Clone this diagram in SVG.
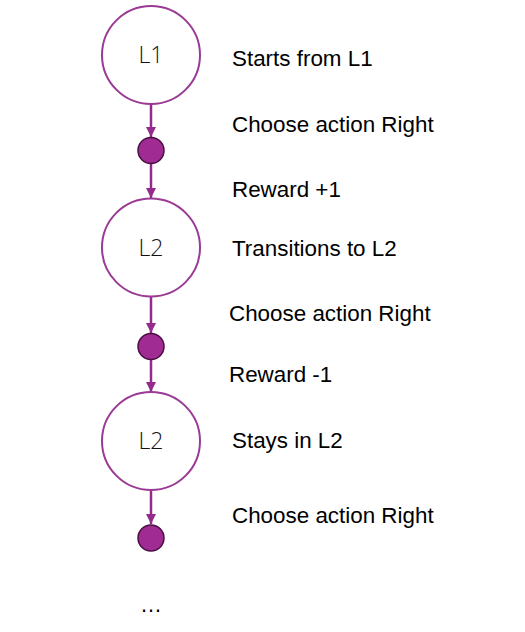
<svg xmlns="http://www.w3.org/2000/svg" width="525" height="632" viewBox="0 0 525 632">
<defs>
<marker id="ah" viewBox="0 0 10 10" refX="10" refY="5" markerWidth="4" markerHeight="4" orient="auto" markerUnits="strokeWidth">
<path d="M0,0 L10,5 L0,10 z" fill="#932a8c"/>
</marker>
<style>
.st{fill:#fff;stroke:#9a3a94;stroke-width:2}
.dot{fill:#a02b92;stroke:#4a1044;stroke-width:1.5}
.lb{font-family:"Open Sans","Noto Sans",sans-serif;font-weight:300;font-size:23px;fill:#111;text-anchor:middle}
.tx{font-family:"Liberation Sans",Arial,sans-serif;font-size:22.4px;fill:#000}
.cn{stroke:#932a8c;stroke-width:2.5;fill:none;marker-end:url(#ah)}
</style>
</defs>
<rect width="525" height="632" fill="#fff"/>
<g id="connectors">
<line class="cn" x1="151" y1="104" x2="151" y2="137"/>
<line class="cn" x1="151" y1="164" x2="151" y2="198"/>
<line class="cn" x1="151" y1="297" x2="151" y2="333"/>
<line class="cn" x1="151" y1="360" x2="151" y2="392"/>
<line class="cn" x1="151" y1="491" x2="151" y2="524"/>
</g>
<g id="state1"><circle class="st" cx="151" cy="55" r="49"/><text class="lb" x="151" y="63">L1</text></g>
<g id="action1"><circle class="dot" cx="151" cy="150.5" r="13"/></g>
<g id="state2"><circle class="st" cx="151" cy="247.5" r="49"/><text class="lb" x="151" y="256">L2</text></g>
<g id="action2"><circle class="dot" cx="151" cy="346.5" r="13"/></g>
<g id="state3"><circle class="st" cx="151" cy="441" r="49"/><text class="lb" x="151" y="449">L2</text></g>
<g id="action3"><circle class="dot" cx="151" cy="538" r="13"/></g>
<g id="ellipsis"><text x="151" y="612" font-family="'Liberation Sans',Arial,sans-serif" font-size="22" fill="#000" text-anchor="middle">…</text></g>
<g id="labels">
<text class="tx" x="232" y="66">Starts from L1</text>
<text class="tx" x="232" y="132">Choose action Right</text>
<text class="tx" x="232" y="197">Reward +1</text>
<text class="tx" x="232" y="256">Transitions to L2</text>
<text class="tx" x="229" y="321">Choose action Right</text>
<text class="tx" x="229" y="382">Reward -1</text>
<text class="tx" x="232" y="448">Stays in L2</text>
<text class="tx" x="232" y="523">Choose action Right</text>
</g>
</svg>
